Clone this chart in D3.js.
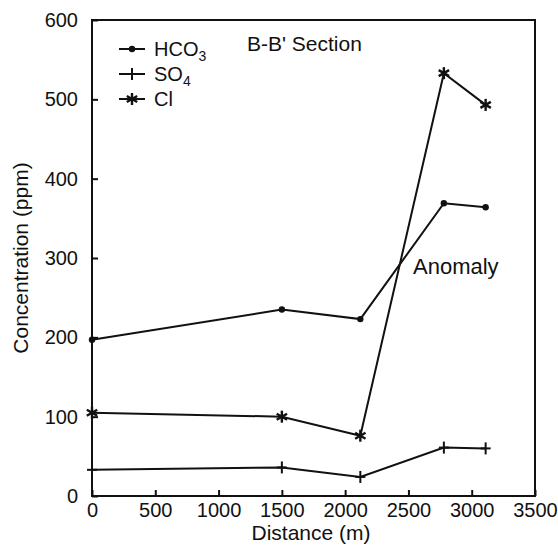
<!DOCTYPE html>
<head>
<meta charset="utf-8">
<title>B-B' Section</title>
<script src="https://cdn.jsdelivr.net/npm/d3@7/dist/d3.min.js"></script>
<style>
    body { margin: 0; background: #fff; }
    text { font-family: "Liberation Sans", Arial, sans-serif; fill: #111; }
</style>
</head>
<body>
<script>
    // values
    var distance = [0, 1500, 2120, 2780, 3110];
    var hco3 = [197, 235, 223, 369, 364];
    var so4 = [33, 36, 24, 61, 60];
    var cl = [105, 100, 76, 533, 493];
    var xTicks = [0, 500, 1000, 1500, 2000, 2500, 3000, 3500];
    var yTicks = [0, 100, 200, 300, 400, 500, 600];

    var W = 558, H = 546;
    var margin = {top: 20, right: 23, bottom: 50, left: 92};

    var svg = d3.select("body").append("svg")
        .attr("width", W)
        .attr("height", H);

    var x = d3.scaleLinear().domain([0, 3500]).range([margin.left, W - margin.right]);
    var y = d3.scaleLinear().domain([0, 600]).range([H - margin.bottom, margin.top]);

    // frame
    svg.append("rect")
        .attr("x", x(0)).attr("y", y(600))
        .attr("width", x(3500) - x(0)).attr("height", y(0) - y(600))
        .attr("fill", "none").attr("stroke", "#111").attr("stroke-width", 2);

    // axes, ticks pointing inward
    var xAxis = svg.append("g")
        .attr("transform", "translate(0," + y(0) + ")")
        .call(d3.axisBottom(x).tickValues(xTicks).tickSize(-6).tickPadding(7).tickFormat(d3.format("d")));
    xAxis.select(".domain").remove();
    xAxis.selectAll("line").attr("stroke", "#111").attr("stroke-width", 2);
    xAxis.selectAll("text").style("font-size", "20px").attr("fill", "#111");

    var yAxis = svg.append("g")
        .attr("transform", "translate(" + x(0) + ",0)")
        .call(d3.axisLeft(y).tickValues(yTicks).tickSize(-6).tickPadding(14).tickFormat(d3.format("d")));
    yAxis.select(".domain").remove();
    yAxis.selectAll("line").attr("stroke", "#111").attr("stroke-width", 2);
    yAxis.selectAll("text").style("font-size", "20px").attr("fill", "#111");

    // axis titles
    svg.append("text")
        .attr("x", 311).attr("y", 540)
        .attr("text-anchor", "middle")
        .style("font-size", "21px")
        .text("Distance (m)");

    svg.append("text")
        .attr("transform", "translate(28," + 258 + ") rotate(-90)")
        .attr("text-anchor", "middle")
        .style("font-size", "21px")
        .text("Concentration (ppm)");

    var line = d3.line()
        .x(function(d) { return x(d[0]); })
        .y(function(d) { return y(d[1]); });

    function pairs(vals) {
        return distance.map(function(d, i) { return [d, vals[i]]; });
    }

    var series = [
        {name: "HCO3", vals: hco3, marker: "dot"},
        {name: "SO4", vals: so4, marker: "plus"},
        {name: "Cl", vals: cl, marker: "star"}
    ];

    function drawMarker(g, kind, cx, cy) {
        if (kind == "dot") {
            g.append("circle").attr("cx", cx).attr("cy", cy).attr("r", 3.2).attr("fill", "#111");
        } else if (kind == "plus") {
            g.append("line").attr("x1", cx).attr("x2", cx).attr("y1", cy - 6).attr("y2", cy + 6)
                .attr("stroke", "#111").attr("stroke-width", 2);
            g.append("line").attr("x1", cx - 5).attr("x2", cx + 5).attr("y1", cy).attr("y2", cy)
                .attr("stroke", "#111").attr("stroke-width", 2);
        } else {
            [0, 60, 120].forEach(function(a) {
                var r = a * Math.PI / 180;
                g.append("line")
                    .attr("x1", cx - 6 * Math.sin(r)).attr("y1", cy - 6 * Math.cos(r))
                    .attr("x2", cx + 6 * Math.sin(r)).attr("y2", cy + 6 * Math.cos(r))
                    .attr("stroke", "#111").attr("stroke-width", 2.4);
            });
        }
    }

    series.forEach(function(s) {
        svg.append("path")
            .datum(pairs(s.vals))
            .attr("d", line)
            .attr("fill", "none")
            .attr("stroke", "#111")
            .attr("stroke-width", 2);
        var g = svg.append("g");
        pairs(s.vals).forEach(function(p) {
            drawMarker(g, s.marker, x(p[0]), y(p[1]));
        });
    });

    // legend
    var legend = svg.append("g");
    series.forEach(function(s, i) {
        var ly = 49 + i * 25;
        legend.append("line")
            .attr("x1", 119).attr("x2", 145).attr("y1", ly).attr("y2", ly)
            .attr("stroke", "#111").attr("stroke-width", 2);
        drawMarker(legend, s.marker, 132, ly);
        var t = legend.append("text")
            .attr("x", 154).attr("y", ly + 7)
            .style("font-size", "20px");
        if (s.name == "Cl") {
            t.text("Cl");
        } else {
            t.append("tspan").text(s.name.slice(0, -1));
            t.append("tspan").attr("dy", 5).style("font-size", "14px").text(s.name.slice(-1));
        }
    });

    svg.append("text")
        .attr("x", 247).attr("y", 51)
        .style("font-size", "21px")
        .text("B-B' Section");

    svg.append("text")
        .attr("x", 413).attr("y", 274)
        .style("font-size", "22px")
        .text("Anomaly");
</script>
</body>
</html>
